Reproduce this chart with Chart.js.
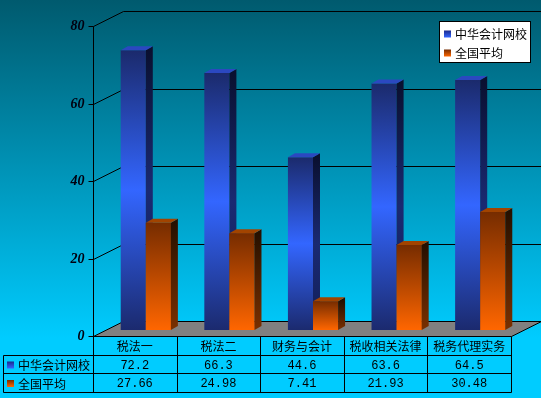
<!DOCTYPE html>
<html>
<head>
<meta charset="utf-8">
<script src="https://cdn.jsdelivr.net/npm/chart.js@4/dist/chart.umd.min.js"></script>
<style>
  body { margin: 0; background: #00ccff; }
  #wrap { width: 541px; height: 398px; }
</style>
</head>
<body>
<div id="wrap"><canvas id="scoreChart" width="541" height="398"></canvas></div>
<script>
var categories = ['税法一', '税法二', '财务与会计', '税收相关法律', '税务代理实务'];
var seriesNames = ['中华会计网校', '全国平均'];
var schoolValues = [72.2, 66.3, 44.6, 63.6, 64.5];
var nationalValues = [27.66, 24.98, 7.41, 21.93, 30.48];
var yTicks = [0, 20, 40, 60, 80];

// offsets for the fake 3d look
var barShiftX = 11, barShiftY = -6;   // bar plane behind the front plane
var depthX = 30, depthY = -15;        // wall depth
var barDepthX = 7, barDepthY = -4;    // bar thickness

var frontStops = [['#1b2a6c', '#3366ff', '#1b2a6e'], ['#762c00', '#ff6600']];
var sideStops = [['#0a1030', '#1a2a72', '#121e58'], ['#261000', '#7a3000']];
var topColors = ['#2b48c0', '#a24400'];
var iconColors = [['#1b2a8c', '#3366ff'], ['#762c00', '#ff6600']];

function makeGradient(ctx, y1, y2, stops) {
  var g = ctx.createLinearGradient(0, y1, 0, y2);
  for (var i = 0; i < stops.length; i++) {
    g.addColorStop(i / (stops.length - 1), stops[i]);
  }
  return g;
}

function frontGradient(c, stops) {
  var chart = c.chart;
  if (!chart.chartArea) return stops[0];
  var y = chart.scales.y.getPixelForValue(c.raw);
  var b = chart.scales.y.getPixelForValue(0);
  return makeGradient(chart.ctx, y, b, stops);
}

function fy(chart, v) {
  return chart.scales.y.getPixelForValue(v) - barShiftY;
}

function line(ctx, x1, y1, x2, y2) {
  ctx.beginPath();
  ctx.moveTo(x1, y1);
  ctx.lineTo(x2, y2);
  ctx.stroke();
}

// side and top faces of one bar, optionally its front again
function drawBarFaces(ctx, bar, s, withFront) {
  var x1 = bar.x - bar.width / 2, x2 = bar.x + bar.width / 2;
  if (withFront) {
    ctx.fillStyle = makeGradient(ctx, bar.y, bar.base, frontStops[s]);
    ctx.fillRect(x1, bar.y, x2 - x1, bar.base - bar.y);
  }
  ctx.fillStyle = makeGradient(ctx, bar.y, bar.base, sideStops[s]);
  ctx.beginPath();
  ctx.moveTo(x2, bar.y);
  ctx.lineTo(x2 + barDepthX, bar.y + barDepthY);
  ctx.lineTo(x2 + barDepthX, bar.base + barDepthY);
  ctx.lineTo(x2, bar.base);
  ctx.closePath();
  ctx.fill();
  ctx.fillStyle = topColors[s];
  ctx.beginPath();
  ctx.moveTo(x1, bar.y);
  ctx.lineTo(x1 + barDepthX, bar.y + barDepthY);
  ctx.lineTo(x2 + barDepthX, bar.y + barDepthY);
  ctx.lineTo(x2, bar.y);
  ctx.closePath();
  ctx.fill();
}

function drawIcon(ctx, x, y, colors) {
  ctx.fillStyle = makeGradient(ctx, y, y + 7, colors);
  ctx.fillRect(x, y, 7, 7);
}

var threeD = {
  id: 'threeD',
  beforeDraw: function (chart) {
    var ctx = chart.ctx;
    ctx.save();
    ctx.fillStyle = makeGradient(ctx, 0, chart.height * 0.85, ['#005a6e', '#00ccff']);
    ctx.fillRect(0, 0, chart.width, chart.height);
    ctx.restore();
  },
  beforeDatasetsDraw: function (chart) {
    var ctx = chart.ctx;
    var a = chart.chartArea;
    var left = Math.round(a.left - barShiftX) + 0.5;
    var right = Math.round(a.right - barShiftX) + 0.5;
    var y0 = Math.round(fy(chart, 0)) + 0.5;
    ctx.save();
    // floor
    ctx.fillStyle = '#808080';
    ctx.beginPath();
    ctx.moveTo(left, y0);
    ctx.lineTo(right, y0);
    ctx.lineTo(right + depthX, y0 + depthY);
    ctx.lineTo(left + depthX, y0 + depthY);
    ctx.closePath();
    ctx.fill();
    ctx.strokeStyle = '#000';
    ctx.lineWidth = 1;
    line(ctx, right, y0, right + depthX, y0 + depthY);
    // grid lines on side and back walls, value axis
    ctx.font = 'bold italic 14px "Liberation Serif"';
    ctx.fillStyle = '#000010';
    ctx.textAlign = 'right';
    ctx.textBaseline = 'middle';
    for (var i = 0; i < yTicks.length; i++) {
      var y = Math.round(fy(chart, yTicks[i])) + 0.5;
      line(ctx, left, y, left + depthX, y + depthY);
      line(ctx, left + depthX, y + depthY, chart.width, y + depthY);
      line(ctx, left - 5, y, left, y);
      ctx.fillText(String(yTicks[i]), left - 9, y);
    }
    line(ctx, left, Math.round(fy(chart, yTicks[yTicks.length - 1])) + 0.5, left, y0 + 56);
    ctx.restore();
  },
  afterDatasetsDraw: function (chart) {
    var ctx = chart.ctx;
    var blueBars = chart.getDatasetMeta(0).data;
    var orangeBars = chart.getDatasetMeta(1).data;
    ctx.save();
    for (var i = 0; i < blueBars.length; i++) {
      drawBarFaces(ctx, blueBars[i], 0, false);
      drawBarFaces(ctx, orangeBars[i], 1, true);
    }
    ctx.restore();
  },
  afterDraw: function (chart) {
    var ctx = chart.ctx;
    var a = chart.chartArea;
    var n = categories.length;
    var left = Math.round(a.left - barShiftX) + 0.5;
    var right = Math.round(a.right - barShiftX) + 0.5;
    var top = Math.round(fy(chart, 0)) + 0.5;
    var rows = [top, top + 19, top + 37, top + 56];
    var tableLeft = 3.5;
    var colW = (a.right - a.left) / n;
    ctx.save();
    ctx.strokeStyle = '#000';
    ctx.lineWidth = 1;
    line(ctx, left, rows[0], right, rows[0]);
    for (var r = 1; r < rows.length; r++) line(ctx, tableLeft, rows[r], right, rows[r]);
    line(ctx, tableLeft, rows[1], tableLeft, rows[3]);
    for (var i = 0; i <= n; i++) {
      var x = Math.round(a.left - barShiftX + colW * i) + 0.5;
      line(ctx, x, rows[0], x, rows[3]);
    }
    ctx.fillStyle = '#000';
    ctx.textAlign = 'center';
    ctx.textBaseline = 'middle';
    var valueRows = [schoolValues, nationalValues];
    for (var i = 0; i < n; i++) {
      var cx = chart.scales.x.getPixelForValue(i) - barShiftX;
      ctx.font = '12px "Noto Sans CJK SC"';
      ctx.fillText(categories[i], cx, (rows[0] + rows[1]) / 2);
      ctx.font = '12px "Liberation Mono"';
      for (var s = 0; s < valueRows.length; s++) {
        ctx.fillText(String(valueRows[s][i]), cx, (rows[s + 1] + rows[s + 2]) / 2 + 1);
      }
    }
    // row headers
    ctx.textAlign = 'left';
    ctx.font = '12px "Noto Sans CJK SC"';
    for (var s = 0; s < seriesNames.length; s++) {
      var cy = (rows[s + 1] + rows[s + 2]) / 2;
      drawIcon(ctx, 7, cy - 3, iconColors[s]);
      ctx.fillStyle = '#000';
      ctx.fillText(seriesNames[s], 18, cy + 1);
    }
    // legend box
    var lx = 439.5, ly = 21.5, lw = 91, lh = 41;
    ctx.fillStyle = '#fff';
    ctx.fillRect(lx, ly, lw, lh);
    ctx.strokeRect(lx, ly, lw, lh);
    for (var s = 0; s < seriesNames.length; s++) {
      var cy = ly + 12 + s * 19;
      drawIcon(ctx, 444, cy - 3, iconColors[s]);
      ctx.fillStyle = '#000';
      ctx.fillText(seriesNames[s], 455, cy + 1);
    }
    ctx.restore();
  }
};

var chartCtx = document.getElementById('scoreChart').getContext('2d');
var scoreChart = new Chart(chartCtx, {
  type: 'bar',
  data: {
    labels: categories,
    datasets: [{
      label: seriesNames[0],
      data: schoolValues,
      backgroundColor: function (c) { return frontGradient(c, frontStops[0]); }
    }, {
      label: seriesNames[1],
      data: nationalValues,
      backgroundColor: function (c) { return frontGradient(c, frontStops[1]); }
    }]
  },
  options: {
    responsive: false,
    animation: false,
    categoryPercentage: 0.6,
    barPercentage: 1.0,
    layout: { padding: { left: 104, right: 19, top: 20, bottom: 68 } },
    plugins: { legend: { display: false }, tooltip: { enabled: false } },
    scales: {
      x: { display: false },
      y: { display: false, min: 0, max: 80, ticks: { stepSize: 20 } }
    }
  },
  plugins: [threeD]
});
</script>
</body>
</html>
